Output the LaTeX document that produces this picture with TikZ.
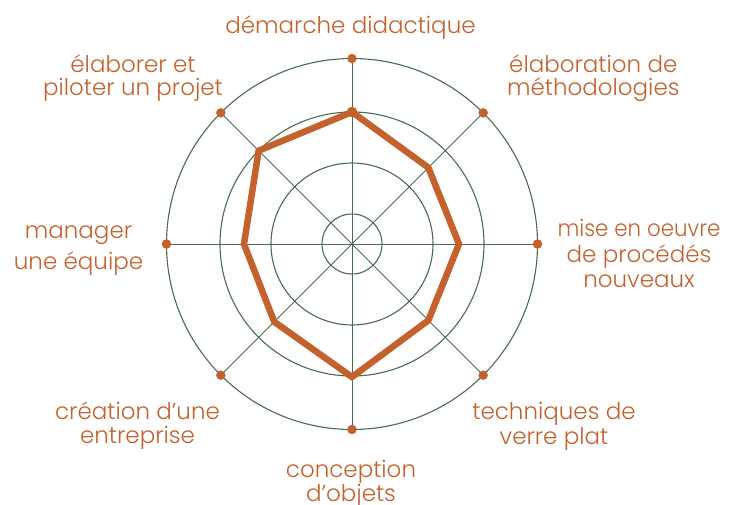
\documentclass[tikz,border=0pt]{standalone}
\usepackage{fontspec}
\setmainfont{Poppins Light}
\usetikzlibrary{calc}
\definecolor{rust}{RGB}{196,98,46}
\definecolor{gridgreen}{RGB}{74,106,88}
\begin{document}
\begin{tikzpicture}[x=1pt,y=1pt,
  gridline/.style={draw=gridgreen, line width=1.1pt},
  spoke/.style={draw=gridgreen, line width=0.9pt},
  outerdot/.style={circle, fill=rust, inner sep=0pt, minimum size=9.5pt},
  profiledot/.style={circle, fill=rust, inner sep=0pt, minimum size=10.5pt},
  profile/.style={draw=rust, line width=6.5pt, line join=miter},
  lbl/.style={text=rust, align=center, anchor=base, inner sep=0pt}]
\useasboundingbox (0,0) rectangle (734,-504);
\coordinate (c) at (352,-244);
% grid circles
\foreach \r in {30,81,132,185.5} \draw[gridline] (c) circle (\r);
% outer points
\foreach \i/\a in {n/90,ne/45,e/0,se/-45,s/-90,sw/-135,w/180,nw/135}
  \coordinate (q\i) at ($(c)+(\a:185.5)$);
\foreach \i in {n,ne,e,se,s,sw,w,nw} \draw[spoke] (c) -- (q\i);
\foreach \i in {n,ne,e,se,s,sw,w,nw} \node[outerdot] (o\i) at (q\i) {};
% profile
\coordinate (pn)  at ($(c)+(90:132)$);
\coordinate (pne) at ($(c)+(45:108)$);
\coordinate (pe)  at ($(c)+(0:107)$);
\coordinate (pse) at ($(c)+(-45:108)$);
\coordinate (ps)  at ($(c)+(-90:133)$);
\coordinate (psw) at ($(c)+(-135:110)$);
\coordinate (pw)  at ($(c)+(180:108)$);
\coordinate (pnw) at ($(c)+(135:132)$);
\draw[profile] (pn) -- (pne) -- (pe) -- (pse) -- (ps) -- (psw) -- (pw) -- (pnw) -- cycle;
\node[profiledot] (pdot) at (pn) {};
% labels (anchor = baseline of last line)
\node[lbl, font=\fontsize{23}{24}\selectfont] (l1) at (350.5,-33.3) {démarche didactique};
\node[lbl, font=\fontsize{23}{22.3}\selectfont] (l2) at (593.3,-95) {élaboration de\\méthodologies};
\node[lbl, font=\fontsize{23}{25.3}\selectfont] (l3) at (639,-287.3) {\scalebox{0.93}[1]{mise en oeuvre}\\de procédés\\nouveaux};
\node[lbl, font=\fontsize{23}{24.7}\selectfont] (l4) at (554,-444) {techniques de\\verre plat};
\node[lbl, font=\fontsize{23}{24}\selectfont] (l5) at (351,-501.3) {conception\\d’objets};
\node[lbl, font=\fontsize{23}{24}\selectfont] (l6) at (137.5,-443.3) {création d’une\\entreprise};
\node[lbl, font=\fontsize{23}{30.7}\selectfont] (l7) at (78.5,-269) {manager\\une équipe};
\node[lbl, font=\fontsize{23}{22.3}\selectfont] (l8) at (133,-95) {élaborer et\\piloter un projet};
\end{tikzpicture}
\end{document}
